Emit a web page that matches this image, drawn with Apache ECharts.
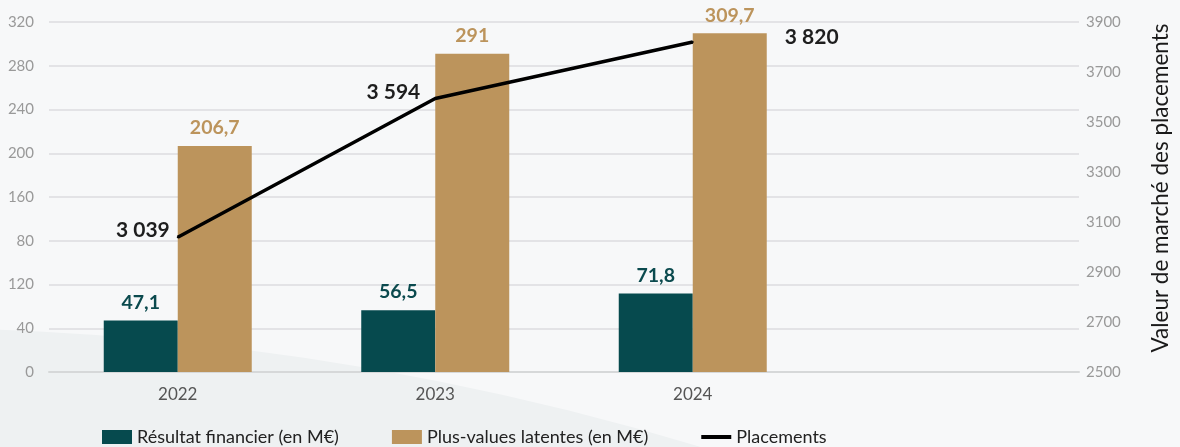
<!DOCTYPE html>
<html><head><meta charset="utf-8">
<script src="https://cdn.jsdelivr.net/npm/echarts@6/dist/echarts.min.js"></script>
<style>html,body{margin:0;padding:0;background:#f7f8f9;}#c{width:1180px;height:447px;}</style>
</head><body><div id="c"></div>
<script>
const categories = ['2022', '2023', '2024', ''];
const resultatFinancier = [47.1, 56.5, 71.8];
const plusValues = [206.7, 291, 309.7];
const placements = [3039, 3594, 3820];
const leftTickLabels = ['0', '40', '120', '80', '160', '200', '240', '280', '320'];
const seriesNames = ['Résultat financier (en M€)', 'Plus-values latentes (en M€)', 'Placements'];
const rightAxisName = 'Valeur de marché des placements';

const FONT = 'Lato';
const fmtDec = v => String(v).replace('.', ',');
const fmtThousands = v => String(v).replace(/\B(?=(\d{3})+(?!\d))/g, ' ');
const lineLabelStyle = [
  {position: [-7, -6], align: 'right', verticalAlign: 'middle'},
  {position: [-14, -5], align: 'right', verticalAlign: 'middle'},
  {position: [93, -4], align: 'left', verticalAlign: 'middle'}
];

const chart = echarts.init(document.getElementById('c'), null, {renderer: 'canvas'});
chart.setOption({
  backgroundColor: '#f7f8f9',
  animation: false,
  textStyle: {fontFamily: FONT},
  graphic: [
    {type: 'circle', z: -10, silent: true,
     shape: {cx: -100, cy: 3081, r: 2753},
     style: {fill: '#eef1f2'}}
  ],
  grid: {left: 49, right: 94, top: 22, bottom: 75},
  legend: {
    left: 102, top: 428, padding: 0,
    itemWidth: 30, itemHeight: 14, itemGap: 53,
    textStyle: {fontFamily: FONT, fontSize: 18, color: '#222'},
    data: [
      {name: seriesNames[0], icon: 'rect'},
      {name: seriesNames[1], icon: 'rect'},
      {name: seriesNames[2], icon: 'path://M0,0 L30,0 L30,4 L0,4 Z'}
    ]
  },
  xAxis: {
    type: 'category', data: categories,
    axisLine: {lineStyle: {color: '#d6d8d9', width: 2}},
    axisTick: {show: false},
    axisLabel: {color: '#555', fontSize: 17, margin: 14, fontFamily: FONT}
  },
  yAxis: [
    {type: 'value', min: 0, max: 320, interval: 40,
     axisLine: {show: false}, axisTick: {show: false},
     splitLine: {lineStyle: {color: '#dcdddf', width: 1.5}},
     axisLabel: {color: '#999', fontSize: 15, margin: 15, fontFamily: FONT,
       formatter: v => leftTickLabels[Math.round(v / 40)]}},
    {type: 'value', min: 2500, max: 3900, interval: 200,
     axisLine: {show: false}, axisTick: {show: false}, splitLine: {show: false},
     axisLabel: {color: '#999', fontSize: 15, margin: 7, fontFamily: FONT,
       formatter: v => String(v)},
     name: rightAxisName, nameLocation: 'middle', nameRotate: 90, nameGap: 70,
     nameTextStyle: {color: '#1a1a1a', fontSize: 22.5, fontFamily: FONT, padding: [0, 0, 0, 18]}}
  ],
  series: [
    {name: seriesNames[0], type: 'bar', data: resultatFinancier, barWidth: 74, barGap: '0%',
     itemStyle: {color: '#064a4e'},
     label: {show: true, position: 'top', distance: 8, color: '#0b4a4e', fontWeight: 'bold',
       fontSize: 19.5, fontFamily: FONT, formatter: p => fmtDec(p.value)}},
    {name: seriesNames[1], type: 'bar', data: plusValues, barWidth: 74,
     itemStyle: {color: '#bc945c'},
     label: {show: true, position: 'top', distance: 8, color: '#bc945c', fontWeight: 'bold',
       fontSize: 19.5, fontFamily: FONT, formatter: p => fmtDec(p.value)}},
    {name: seriesNames[2], type: 'line', yAxisIndex: 1,
     symbol: 'circle', symbolSize: 2, showSymbol: true,
     lineStyle: {color: '#000', width: 3.5}, itemStyle: {color: '#000'},
     label: {show: true, color: '#1e1e1e', fontWeight: 'bold', fontSize: 21, fontFamily: FONT,
       formatter: p => fmtThousands(p.value)},
     labelLayout: {hideOverlap: false},
     data: placements.map((v, i) => ({
       value: v,
       label: Object.assign({show: true}, lineLabelStyle[i])
     }))}
  ]
});
</script></body></html>
